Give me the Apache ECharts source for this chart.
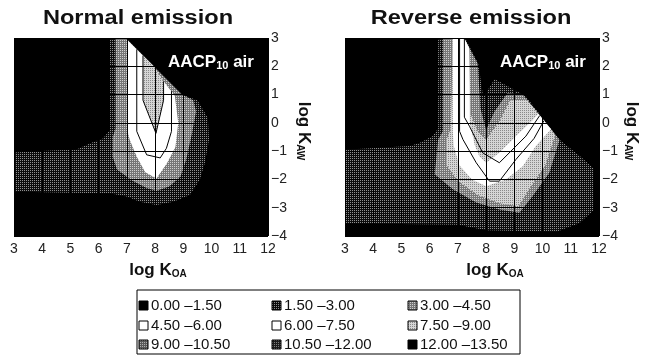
<!DOCTYPE html>
<html lang="en">
<head>
<meta charset="UTF-8">
<title></title>
<script src="https://cdn.jsdelivr.net/npm/echarts@6/dist/echarts.min.js"></script>
<style>
    html, body { margin: 0; padding: 0; background: #fff; }
    #chart { width: 654px; height: 356px; }
</style>
</head>
<body>
<div id="chart"></div>
<script>
    /* axes */
    var koaRange = [3, 12];
    var kawRange = [-4, 3];
    var panelTitles = ['Normal emission', 'Reverse emission'];
    var levelLabels = ['0.00 \u20131.50', '1.50 \u20133.00', '3.00 \u20134.50',
                       '4.50 \u20136.00', '6.00 \u20137.50', '7.50 \u20139.00',
                       '9.00 \u201310.50', '10.50 \u201312.00', '12.00 \u201313.50'];

    /* normal emission: regions at or above a class, [log KOA, log KAW] */
    var normalL1 = [[3,-1.05],[4.5,-0.97],[5.2,-0.95],[5.7,-0.72],[6.15,-0.55],[6.4,-0.25],[6.4,3],[6.95,3],
                    [8.95,1.0],[9.5,0.8],[9.87,0.17],[9.91,-0.6],[9.76,-1.43],[9.58,-2.02],[9.23,-2.55],
                    [8.64,-2.79],[8.05,-2.9],[7.46,-2.79],[6.99,-2.6],[6.4,-2.49],[4.86,-2.47],[3,-2.43]];
    var normalL2 = [[6.6,3],[6.95,3],[8.95,1.0],[9.35,0.8],[9.45,0.4],[9.3,-0.4],[9.1,-1.3],[8.9,-1.9],
                    [8.5,-2.25],[8.05,-2.4],[7.7,-2.3],[7.2,-2.05],[6.65,-1.65],[6.5,-1.2],[6.5,-0.5],[6.6,-0.2]];
    var normalL3 = [[7.0,2.95],[7.0,-0.2],[7.1,-0.6],[7.35,-1.2],[7.65,-1.75],[8.05,-1.97],[8.42,-1.43],
                    [8.72,-0.85],[8.82,0],[8.7,0.95],[8.2,1.6],[7.95,2.0]];
    var normalL5 = [[7.57,2.38],[7.57,0.8],[8.03,-0.37],[8.3,0.8],[8.3,1.47],[8.2,1.6],[7.95,2.0]];
    var normalLines = [
        [[7.35,2.6],[7.35,-0.3],[7.7,-1.13],[8.18,-1.24],[8.4,-0.9],[8.58,-0.3],[8.58,1.12]],
        [[7.57,2.38],[7.57,0.8],[8.03,-0.37],[8.3,0.8],[8.3,1.47]]
    ];

    /* reverse emission */
    var reverseL1 = [[3,-0.95],[5.3,-0.82],[5.65,-0.7],[6.1,-0.47],[6.3,-0.2],[6.3,3],[7.25,3],[7.72,2.1],
                     [7.9,0.9],[8.3,1.55],[9.4,0.95],[10.6,-0.6],[11.3,-1.15],[11.8,-1.6],[11.8,-3.1],
                     [11.3,-3.55],[10.5,-3.85],[8,-3.8],[7,-3.6],[3,-3.55]];
    var reverseL2 = [[6.47,3],[7.22,3],[7.7,2.1],[7.8,0.5],[8.0,-0.25],[8.3,0.4],[8.75,1.05],[9.3,1.0],
                     [10.6,-0.6],[10.24,-1.76],[9.65,-2.59],[9.18,-3.18],[8.47,-3.06],[7.65,-2.82],
                     [6.82,-2.35],[6.18,-1.82],[6.3,-0.6],[6.47,-0.3]];
    var reverseL3 = [[6.82,3],[7.22,3],[7.4,2.65],[7.45,0.3],[7.7,-0.3],[8.0,-0.6],[8.5,0.1],[8.85,0.8],
                     [9.45,0.82],[10.45,-0.42],[10.1,-1.5],[9.55,-2.3],[9.15,-2.95],[8.5,-2.85],[7.7,-2.55],
                     [7.0,-2.05],[6.6,-1.5],[6.6,-0.6],[6.75,-0.2]];
    var reverseL4 = [[6.82,3],[7.22,3],[7.4,2.65],[7.42,0.0],[7.6,-0.8],[7.76,-1.18],[8.0,-1.41],[8.47,-1.06],
                     [9.18,-0.35],[9.6,0.05],[9.85,0.32],[10.3,-0.23],[9.76,-0.82],[9.3,-1.53],[8.7,-2.0],
                     [8.0,-2.24],[7.5,-2.0],[7.05,-1.5],[6.85,-0.8],[6.82,-0.3]];
    var reverseLines = [
        [[7.06,3],[7.06,-0.3],[7.18,-0.59],[7.65,-1.41],[8.12,-2.06],[8.47,-2.06],[9.06,-1.29],[9.7,-0.55],[10.05,0.08]],
        [[7.23,3],[7.23,0.2],[7.41,-0.12],[7.88,-1.06],[8.47,-1.41],[9.41,-0.47],[9.9,0.26]]
    ];

    var font = '"Liberation Sans", Arial, sans-serif';

    function dots(bg, dot, size) {
        var cv = document.createElement('canvas');
        cv.width = size; cv.height = size;
        var ctx = cv.getContext('2d');
        ctx.fillStyle = bg; ctx.fillRect(0, 0, size, size);
        ctx.fillStyle = dot; ctx.fillRect(0, 0, 1, 1);
        return { image: cv, repeat: 'repeat' };
    }
    var fills = {
        black: '#000',
        dark: dots('#0c0c0c', '#909090', 2),
        gray: dots('#767676', '#cfcfcf', 2),
        light: dots('#d6d6d6', '#8a8a8a', 2),
        white: '#fff',
        mid: dots('#5a5a5a', '#b0b0b0', 2),
        darkgrid: dots('#1c1c1c', '#808080', 2)
    };
    var legendFills = [fills.black, fills.dark, fills.gray, fills.white, fills.white,
                       fills.light, fills.mid, fills.darkgrid, fills.black];

    function polygon(pts, idx, fill) {
        return {
            type: 'custom', xAxisIndex: idx, yAxisIndex: idx, data: pts, silent: true, animation: false,
            renderItem: function (params, api) {
                if (params.dataIndex !== 0) return null;
                return { type: 'polygon', shape: { points: pts.map(function (p) { return api.coord(p); }) },
                         style: { fill: fill } };
            }
        };
    }
    function polyline(pts, idx) {
        return {
            type: 'custom', xAxisIndex: idx, yAxisIndex: idx, data: pts, silent: true, animation: false,
            renderItem: function (params, api) {
                if (params.dataIndex !== 0) return null;
                return { type: 'polyline', shape: { points: pts.map(function (p) { return api.coord(p); }) },
                         style: { fill: null, stroke: '#000', lineWidth: 1 } };
            }
        };
    }

    var grids = [
        { left: 14, top: 38, width: 254, height: 198, show: true, backgroundColor: '#000', borderWidth: 0 },
        { left: 345, top: 38, width: 254, height: 198, show: true, backgroundColor: '#000', borderWidth: 0 }
    ];
    var xAxes = [], yAxes = [];
    [0, 1].forEach(function (i) {
        xAxes.push({
            type: 'value', gridIndex: i, min: koaRange[0], max: koaRange[1], interval: 1, z: 5,
            axisLine: { show: false }, axisTick: { show: false },
            axisLabel: { fontSize: 14, color: '#222', margin: 6, fontFamily: font },
            splitLine: { show: true, lineStyle: { color: '#000', width: 1 } }
        });
        yAxes.push({
            type: 'value', gridIndex: i, position: 'right', min: kawRange[0], max: kawRange[1], interval: 1, z: 5,
            axisLine: { show: false }, axisTick: { show: false },
            axisLabel: { fontSize: 14, color: '#222', margin: 3, fontFamily: font,
                         formatter: function (v) { return v < 0 ? '\u2212' + (-v) : String(v); } },
            splitLine: { show: true, lineStyle: { color: '#000', width: 1 } }
        });
    });

    var series = [
        polygon(normalL1, 0, fills.dark), polygon(normalL2, 0, fills.gray),
        polygon(normalL3, 0, fills.white), polygon(normalL5, 0, fills.light),
        polygon(reverseL1, 1, fills.dark), polygon(reverseL2, 1, fills.gray),
        polygon(reverseL3, 1, fills.light), polygon(reverseL4, 1, fills.white)
    ];
    normalLines.forEach(function (l) { series.push(polyline(l, 0)); });
    reverseLines.forEach(function (l) { series.push(polyline(l, 1)); });

    /* texts and legend */
    var graphics = [];
    var centers = [138, 471];
    var koaNameX = [158, 495];
    var kawNameX = [304, 632];
    var noteX = [168, 500];
    var sub = function (size) { return { font: 'bold ' + size + 'px ' + font, fill: '#111', padding: [8, 0, 0, 0] }; };
    [0, 1].forEach(function (i) {
        graphics.push({ type: 'text', x: centers[i], y: 18, scaleX: 1.18,
            style: { text: panelTitles[i], font: 'bold 20px ' + font, fill: '#111', align: 'center', verticalAlign: 'middle' } });
        graphics.push({ type: 'text', x: koaNameX[i], y: 270,
            style: { text: '{a|log K}{s|OA}', align: 'center', verticalAlign: 'middle', fill: '#111',
                rich: { a: { font: 'bold 17px ' + font, fill: '#111' }, s: sub(10) } } });
        graphics.push({ type: 'text', x: kawNameX[i], y: 131, rotation: -Math.PI / 2,
            style: { text: '{a|log K}{s|AW}', align: 'center', verticalAlign: 'middle', fill: '#111',
                rich: { a: { font: 'bold 17px ' + font, fill: '#111' }, s: sub(10) } } });
        graphics.push({ type: 'text', x: noteX[i], y: 62, z: 100,
            style: { text: '{a|AACP}{s|10}{a| air}', verticalAlign: 'middle', fill: '#fff',
                rich: { a: { font: 'bold 17px ' + font, fill: '#fff' },
                        s: { font: 'bold 11px ' + font, fill: '#fff', padding: [8, 0, 0, 0] } } } });
    });

    var legendBox = { x: 137, y: 290, w: 383, h: 64 };
    var colX = [139, 272, 408];
    var rowY = [306, 326, 345];
    graphics.push({ type: 'rect', shape: { x: legendBox.x, y: legendBox.y, width: legendBox.w, height: legendBox.h },
        style: { fill: '#fff', stroke: '#000', lineWidth: 1 } });
    levelLabels.forEach(function (lab, k) {
        var cx = colX[k % 3], cy = rowY[Math.floor(k / 3)];
        graphics.push({ type: 'rect', shape: { x: cx, y: cy - 5, width: 9, height: 9 },
            style: { fill: legendFills[k], stroke: '#000', lineWidth: 1 } });
        graphics.push({ type: 'text', x: cx + 12, y: cy, style: { text: lab, font: '15px ' + font, fill: '#111', verticalAlign: 'middle' } });
    });

    var chart = echarts.init(document.getElementById('chart'), null, { renderer: 'canvas' });
    chart.setOption({
        animation: false,
        backgroundColor: '#fff',
        grid: grids,
        xAxis: xAxes,
        yAxis: yAxes,
        series: series,
        graphic: graphics
    });
</script>
</body>
</html>
